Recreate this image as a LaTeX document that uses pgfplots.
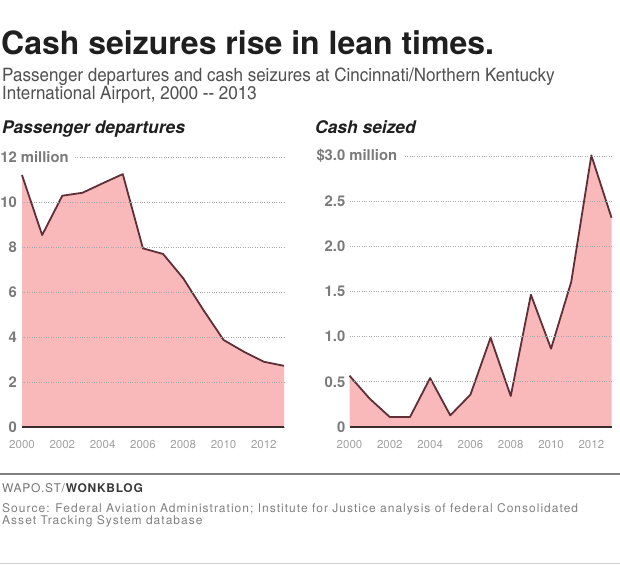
\documentclass[border=0pt]{standalone}
\usepackage{pgfplots}
\pgfplotsset{compat=1.18}
\usepackage{fontspec}
\setmainfont{TeX Gyre Heros}
\newfontfamily\subfont[FakeStretch=1.12]{TeX Gyre Heros Cn}
\newfontfamily\srcfont[LetterSpace=6]{TeX Gyre Heros}
\newfontfamily\notefont[LetterSpace=8.5]{TeX Gyre Heros}

\definecolor{areafill}{HTML}{F9B9BB}
\definecolor{arealine}{HTML}{5E2F36}
\definecolor{baseline}{HTML}{3B2B2D}
\definecolor{ticknum}{HTML}{7A7A7A}
\definecolor{yearlbl}{HTML}{A0A0A0}
\definecolor{gridcol}{HTML}{A8A8A8}

% number on the top gridline, followed by a unit that masks the dots behind it
\newcommand{\toplabel}[3]{#1\rlap{\fboxsep=0pt\colorbox{white}{\ #2\hspace{#3}}}}

\pgfplotsset{
  panel/.style={
    scale only axis,
    width=262pt,
    xmin=2000, xmax=2013,
    ymin=0,
    axis x line=bottom,
    axis y line=left,
    x axis line style={-, draw=baseline, line width=1.6pt},
    y axis line style={draw=none},
    major tick length=0pt,
    xtick={2000,2002,...,2012},
    xticklabels={2000,2002,2004,2006,2008,2010,2012},
    xticklabel style={font=\fontsize{11.5}{11.5}\selectfont, text=yearlbl,
      anchor=north, inner sep=0pt, yshift=-13pt},
    yticklabel style={font=\bfseries\fontsize{14.8}{14.8}\selectfont, text=ticknum,
      anchor=east, inner sep=0pt},
    ymajorgrids,
    grid style={dotted, draw=gridcol, line width=0.9pt},
    axis on top,
    clip=false,
  },
  fillarea/.style={fill=areafill, draw=none},
  trend/.style={draw=arealine, line width=1.8pt, line join=round, mark=none},
}

\begin{document}
\begin{tikzpicture}
\path[use as bounding box] (0,0) rectangle (620pt,-564pt);

% headings
\node[anchor=base west, inner sep=0pt, text=black!88] at (1pt,-55pt)
  {\bfseries\fontsize{32}{32}\selectfont Cash seizures rise in lean times.};
\node[anchor=base west, inner sep=0pt, text=black!68] at (2pt,-82pt)
  {\subfont\fontsize{18.5}{18.5}\selectfont Passenger departures and cash seizures at Cincinnati/Northern Kentucky};
\node[anchor=base west, inner sep=0pt, text=black!68] at (2pt,-100pt)
  {\subfont\fontsize{18.5}{18.5}\selectfont International Airport, 2000 -{}- 2013};

\node[anchor=base west, inner sep=0pt, text=black!88] at (2pt,-134pt)
  {\bfseries\itshape\fontsize{17.4}{17.4}\selectfont Passenger departures};
\node[anchor=base west, inner sep=0pt, text=black!88] at (315pt,-134pt)
  {\bfseries\itshape\fontsize{17.4}{17.4}\selectfont Cash seized};

% passenger departures, millions
\begin{axis}[panel, at={(22pt,-427pt)}, anchor=south west,
  height=270pt, ymax=12,
  ytick={0,2,4,6,8,10,12},
  yticklabels={0,2,4,6,8,10,{\toplabel{12}{million}{4pt}}},
  yticklabel style={xshift=-5pt},
]
\addplot[fillarea] coordinates {
  (2000,11.20) (2001,8.53) (2002,10.28) (2003,10.41) (2004,10.83)
  (2005,11.24) (2006,7.94) (2007,7.69) (2008,6.61) (2009,5.20)
  (2010,3.87) (2011,3.35) (2012,2.90) (2013,2.72)} \closedcycle;
\addplot[trend] coordinates {
  (2000,11.20) (2001,8.53) (2002,10.28) (2003,10.41) (2004,10.83)
  (2005,11.24) (2006,7.94) (2007,7.69) (2008,6.61) (2009,5.20)
  (2010,3.87) (2011,3.35) (2012,2.90) (2013,2.72)};
\end{axis}

% cash seized, millions of dollars
\begin{axis}[panel, at={(349.5pt,-427pt)}, anchor=south west,
  height=271pt, ymax=3,
  ytick={0,0.5,1,1.5,2,2.5,3},
  yticklabels={0,0.5,1.0,1.5,2.0,2.5,{\llap{\$}\toplabel{3.0}{million}{7pt}}},
  yticklabel style={xshift=-4pt},
]
\addplot[fillarea] coordinates {
  (2000,0.568) (2001,0.314) (2002,0.110) (2003,0.110) (2004,0.542)
  (2005,0.129) (2006,0.358) (2007,0.989) (2008,0.343) (2009,1.465)
  (2010,0.867) (2011,1.605) (2012,3.007) (2013,2.317)} \closedcycle;
\addplot[trend] coordinates {
  (2000,0.568) (2001,0.314) (2002,0.110) (2003,0.110) (2004,0.542)
  (2005,0.129) (2006,0.358) (2007,0.989) (2008,0.343) (2009,1.465)
  (2010,0.867) (2011,1.605) (2012,3.007) (2013,2.317)};
\end{axis}

% footer
\draw[draw=black!50, line width=1.2pt] (0,-474pt) -- (620pt,-474pt);
\node[anchor=base west, inner sep=0pt] at (2pt,-492pt)
  {\srcfont\fontsize{12}{12}\selectfont\color{black!55}WAPO.ST/\textbf{\color{black!78}WONKBLOG}};
\node[anchor=base west, inner sep=0pt, text=black!50] at (2pt,-512.5pt)
  {\notefont\fontsize{12}{12}\selectfont Source: Federal Aviation Administration; Institute for Justice analysis of federal Consolidated};
\node[anchor=base west, inner sep=0pt, text=black!50] at (2pt,-524.5pt)
  {\notefont\fontsize{12}{12}\selectfont Asset Tracking System database};
\draw[draw=black!18, line width=0.8pt] (0,-563pt) -- (620pt,-563pt);
\end{tikzpicture}
\end{document}
